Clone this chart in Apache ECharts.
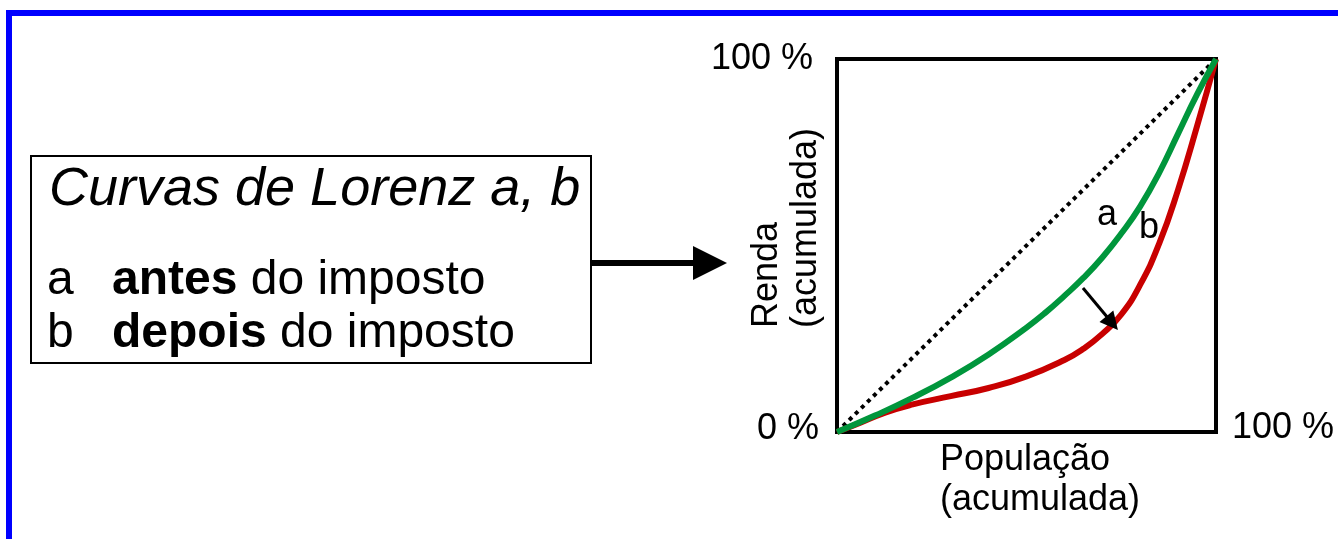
<!DOCTYPE html>
<html>
<head>
<meta charset="utf-8">
<script src="https://cdn.jsdelivr.net/npm/echarts@6/dist/echarts.min.js"></script>
<style>
html,body{margin:0;padding:0;background:#fff;}
#chart{width:1338px;height:539px;}
</style>
</head>
<body>
<div id="chart"></div>
<script>
// Cumulative population share (%) and cumulative income share (%)
var popA   = [0, 10, 20, 30, 40, 50, 55, 60, 65, 70, 75, 80, 85, 90, 95, 100];
var rendaA = [0, 4.4, 9.2, 14.6, 20.8, 28, 32, 36.5, 41.3, 46.8, 53.2, 60.5, 69.5, 80, 90.5, 100];
var popB   = [0, 5, 12.7, 20, 30, 40, 50, 60, 65, 70, 75, 80, 85, 90, 95, 100];
var rendaB = [0, 2.0, 5.2, 7.4, 9.6, 11.8, 14.9, 19.3, 22.3, 26.3, 31.5, 39.5, 50.5, 65, 82, 100];
var popEq   = [0, 100];
var rendaEq = [0, 100];
// shift arrow: from curve a to curve b
var shiftFrom = [64.9, 38.6];
var shiftTo   = [72.6, 29.2];
var yTicks = [0, 100];
var xTickLabel = '100 %';
var titleText = 'Curvas de Lorenz a, b';
var lineA = ['a', 'antes', ' do imposto'];
var lineB = ['b', 'depois', ' do imposto'];
var yName = 'Renda\n(acumulada)';
var xName = 'População\n(acumulada)';
var curveLabels = ['a', 'b'];

function pairs(xs, ys){ return xs.map(function(x,i){ return [x, ys[i]]; }); }

var FONT = '"Liberation Sans", Arial, Helvetica, sans-serif';
var chart = echarts.init(document.getElementById('chart'), null, {renderer:'canvas'});

var option = {
  animation: false,
  backgroundColor: '#ffffff',
  grid: {
    left: 837, top: 59, width: 379, height: 373,
    containLabel: false, outerBoundsMode: 'none',
    show: true, borderColor: '#000', borderWidth: 4, backgroundColor: 'transparent'
  },
  xAxis: {
    type: 'value', min: 0, max: 100, interval: 100,
    axisLine: {show: false}, axisTick: {show: false}, splitLine: {show: false},
    axisLabel: {
      show: true, margin: -4, color: '#000', fontSize: 36, fontFamily: FONT,
      align: 'left', verticalAlign: 'middle', padding: [0, 0, 0, 16],
      formatter: function(v){ return v === 100 ? xTickLabel : ''; }
    }
  },
  yAxis: {
    type: 'value', min: 0, max: 100, interval: 100,
    axisLine: {show: false}, axisTick: {show: false}, splitLine: {show: false},
    axisLabel: {
      show: true, margin: 22, color: '#000', fontSize: 36, fontFamily: FONT,
      formatter: function(v){ return yTicks.indexOf(v) >= 0 ? (v === 0 ? '{z|' + v + ' %}' : '{h|' + v + ' %}') : ''; },
      rich: {
        z: {fontSize: 36, fontFamily: FONT, color: '#000', padding: [0, -4, 6, 0]},
        h: {fontSize: 36, fontFamily: FONT, color: '#000', padding: [0, 2, 0, 0]}
      }
    }
  },
  series: [
    {
      type: 'line', data: pairs(popEq, rendaEq), showSymbol: false, silent: true,
      lineStyle: {color: '#000', width: 4, type: [4, 4.5], cap: 'butt'}, z: 2
    },
    {
      type: 'line', data: pairs(popB, rendaB), smooth: 0.5, showSymbol: false, silent: true,
      lineStyle: {color: '#C80000', width: 6}, z: 3
    },
    {
      type: 'line', data: pairs(popA, rendaA), smooth: 0.5, showSymbol: false, silent: true,
      lineStyle: {color: '#00963C', width: 6}, z: 4,
      markLine: {
        silent: true, animation: false,
        symbol: ['none', 'triangle'], symbolSize: [18, 18],
        label: {show: false},
        lineStyle: {color: '#000', width: 3, type: 'solid'},
        data: [[{coord: shiftFrom}, {coord: shiftTo}]]
      }
    }
  ],
  graphic: [
    // blue frame
    {type: 'rect', shape: {x: 6, y: 10, width: 1332, height: 6}, style: {fill: '#0000FF'}},
    {type: 'rect', shape: {x: 6, y: 10, width: 6, height: 529}, style: {fill: '#0000FF'}},
    // legend box
    {type: 'rect', shape: {x: 31, y: 156, width: 560, height: 207}, style: {fill: '#fff', stroke: '#000', lineWidth: 2}},
    {type: 'text', x: 49, y: 190, style: {text: titleText, font: 'italic 54px ' + FONT, fill: '#000', align: 'left', verticalAlign: 'middle'}},
    {type: 'text', x: 47, y: 281, style: {text: lineA[0], font: '48px ' + FONT, fill: '#000', align: 'left', verticalAlign: 'middle'}},
    {type: 'text', x: 112, y: 281, style: {
      text: '{b|' + lineA[1] + '}{r|' + lineA[2] + '}', align: 'left', verticalAlign: 'middle',
      rich: {b: {font: 'bold 48px ' + FONT, fill: '#000'}, r: {font: '48px ' + FONT, fill: '#000'}}
    }},
    {type: 'text', x: 47, y: 334, style: {text: lineB[0], font: '48px ' + FONT, fill: '#000', align: 'left', verticalAlign: 'middle'}},
    {type: 'text', x: 112, y: 334, style: {
      text: '{b|' + lineB[1] + '}{r|' + lineB[2] + '}', align: 'left', verticalAlign: 'middle',
      rich: {b: {font: 'bold 48px ' + FONT, fill: '#000'}, r: {font: '48px ' + FONT, fill: '#000'}}
    }},
    // big arrow
    {type: 'line', shape: {x1: 591, y1: 263, x2: 696, y2: 263}, style: {stroke: '#000', lineWidth: 6}},
    {type: 'polygon', shape: {points: [[693, 246], [727, 263], [693, 280]]}, style: {fill: '#000'}},
    // axis names
    {type: 'text', x: 787, y: 328, rotation: Math.PI / 2, style: {
      text: yName, font: '36px ' + FONT, fill: '#000', align: 'left', verticalAlign: 'middle', lineHeight: 39
    }},
    {type: 'text', x: 940, y: 480, style: {
      text: xName, font: '36px ' + FONT, fill: '#000', align: 'left', verticalAlign: 'middle', lineHeight: 40
    }},
    // curve labels
    {type: 'text', x: 1107, y: 215, style: {text: curveLabels[0], font: '36px ' + FONT, fill: '#000', align: 'center', verticalAlign: 'middle'}},
    {type: 'text', x: 1149, y: 228, style: {text: curveLabels[1], font: '36px ' + FONT, fill: '#000', align: 'center', verticalAlign: 'middle'}}
  ]
};
chart.setOption(option);
</script>
</body>
</html>
